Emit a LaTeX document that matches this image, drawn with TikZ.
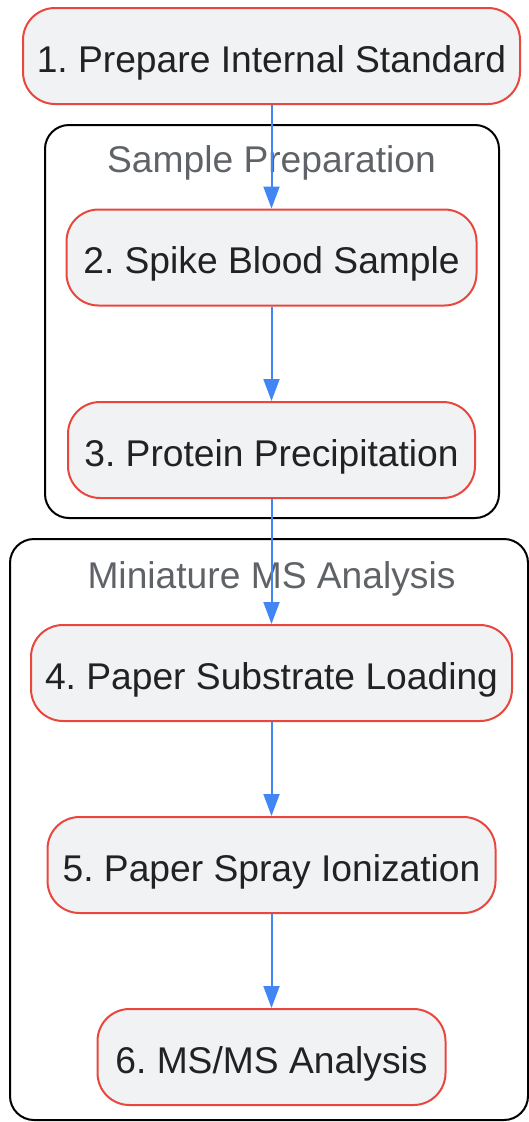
\documentclass[tikz,border=0pt]{standalone}
\usepackage{fontspec}
\setmainfont{Liberation Sans}
\usetikzlibrary{arrows.meta}
\definecolor{stepred}{HTML}{E8473D}
\definecolor{stepfill}{HTML}{F1F2F4}
\definecolor{flowblue}{HTML}{4285F4}
\definecolor{titlegray}{HTML}{5F6368}
\definecolor{textdark}{HTML}{222222}
\frenchspacing

\begin{document}
\begin{tikzpicture}[x=1pt, y=-1pt,
		stepbox/.style={draw=stepred, fill=stepfill, line width=2pt, rounded corners=32pt, minimum height=96pt, inner sep=0pt, text height=32pt, text depth=0pt, text=textdark, font=\fontsize{37.2}{40}\selectfont},
		clusterbox/.style={draw=black, line width=2pt, rounded corners=24pt},
		clustertitle/.style={inner sep=0pt, text height=32pt, text depth=0pt, text=titlegray, font=\fontsize{37.2}{40}\selectfont},
		flow/.style={draw=flowblue, line width=2pt, -{Triangle[length=22pt, width=16pt]}}]
		%%%%% START %%%%%
		
		\useasboundingbox (0, 0) rectangle (529, 1122);
		
		\draw[clusterbox] (45, 125) rectangle (499, 518);
		\node[clustertitle] (prepTitle) at (271.5, 156) {Sample Preparation};
		
		\draw[clusterbox] (10, 539) rectangle (528, 1120);
		\node[clustertitle] (msTitle) at (271.5, 572) {Miniature MS Analysis};
		
		\node[stepbox, minimum width=497pt] (standard) at (271.5, 56) {1. Prepare Internal Standard};
		\node[stepbox, minimum width=410pt] (spike) at (271.5, 257.5) {2. Spike Blood Sample};
		\node[stepbox, minimum width=407pt] (precip) at (271.5, 450) {3. Protein Precipitation};
		\node[stepbox, minimum width=481pt] (loading) at (271.5, 673) {4. Paper Substrate Loading};
		\node[stepbox, minimum width=448pt] (spray) at (271.5, 865) {5. Paper Spray Ionization};
		\node[stepbox, minimum width=348pt] (msms) at (271.5, 1057) {6. MS/MS Analysis};
		
		\draw[flow] (standard) -- (spike);
		\draw[flow] (spike) -- (precip);
		\draw[flow] (precip) -- (loading);
		\draw[flow] (loading) -- (spray);
		\draw[flow] (spray) -- (msms);
		
		%%%%% END %%%%%
\end{tikzpicture}
\end{document}
